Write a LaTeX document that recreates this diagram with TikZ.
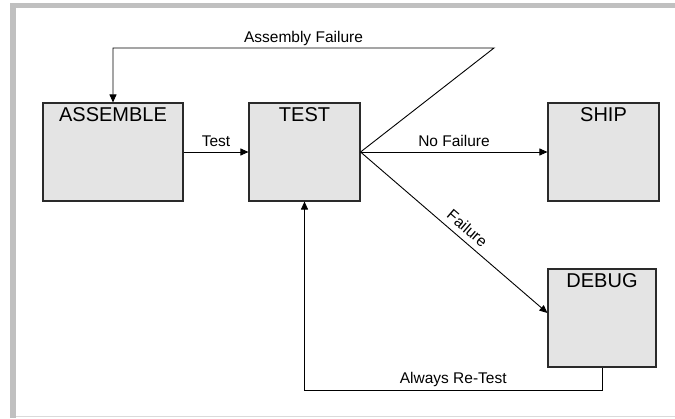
\documentclass[tikz,border=0pt]{standalone}
\usepackage{fontspec}
\setmainfont{Liberation Sans}
\usetikzlibrary{arrows.meta}
\definecolor{boxfill}{HTML}{E4E4E4}
\definecolor{framegray}{HTML}{C0C0C0}
\definecolor{edgegray}{HTML}{DADADA}
\definecolor{inkdark}{HTML}{2A2A2A}
\tikzset{
  stage/.style={draw=inkdark, line width=1.1pt, fill=boxfill, inner sep=0pt, minimum height=98pt},
  title/.style={anchor=north, inner sep=0pt, yshift=-5pt, font=\fontsize{20pt}{22pt}\selectfont},
  flow/.style={draw=black, line width=0.9pt, -{Triangle[length=8pt,width=7pt]}},
  tag/.style={inner sep=0pt, text depth=0pt, font=\fontsize{15.5pt}{17pt}\selectfont}
}
\begin{document}
\begin{tikzpicture}[x=1pt, y=-1pt]
\useasboundingbox (0, 0) rectangle (675, 418);
\fill [framegray] (10, 2.5) rectangle (675, 8);
\fill [framegray] (10, 8) rectangle (16, 417.5);
\draw [edgegray, line width=1pt] (16, 416.5) -- (675, 416.5);

\node (assemble) at (113, 152) [stage, minimum width=140pt, label={[title]north:ASSEMBLE}] {};
\node (test) at (304.5, 152) [stage, minimum width=111pt, label={[title]north:TEST}] {};
\node (ship) at (603.5, 152) [stage, minimum width=111pt, label={[title]north:SHIP}] {};
\node (debug) at (602, 318) [stage, minimum width=108pt, label={[title]north:DEBUG}] {};

\coordinate (apex) at (494, 48);
\coordinate (retest) at (0, 390);

\draw [flow] (assemble.east) -- node [tag, above=5pt] {Test} (test.west);
\draw [flow] (test.east) -- node [tag, above=5pt] {No Failure} (ship.west);
\draw [flow] (test.east) -- node [tag, sloped, above=6pt, pos=0.53] {Failure} ([yshift=5pt]debug.west);
\draw [flow] (test.east) -- (apex) -- node [tag, above=5pt] {Assembly Failure} (assemble.north |- apex) -- (assemble.north);
\draw [flow] (debug.south) -- (debug.south |- retest) -- node [tag, above=6pt] {Always Re-Test} (test.south |- retest) -- (test.south);
\end{tikzpicture}
\end{document}
